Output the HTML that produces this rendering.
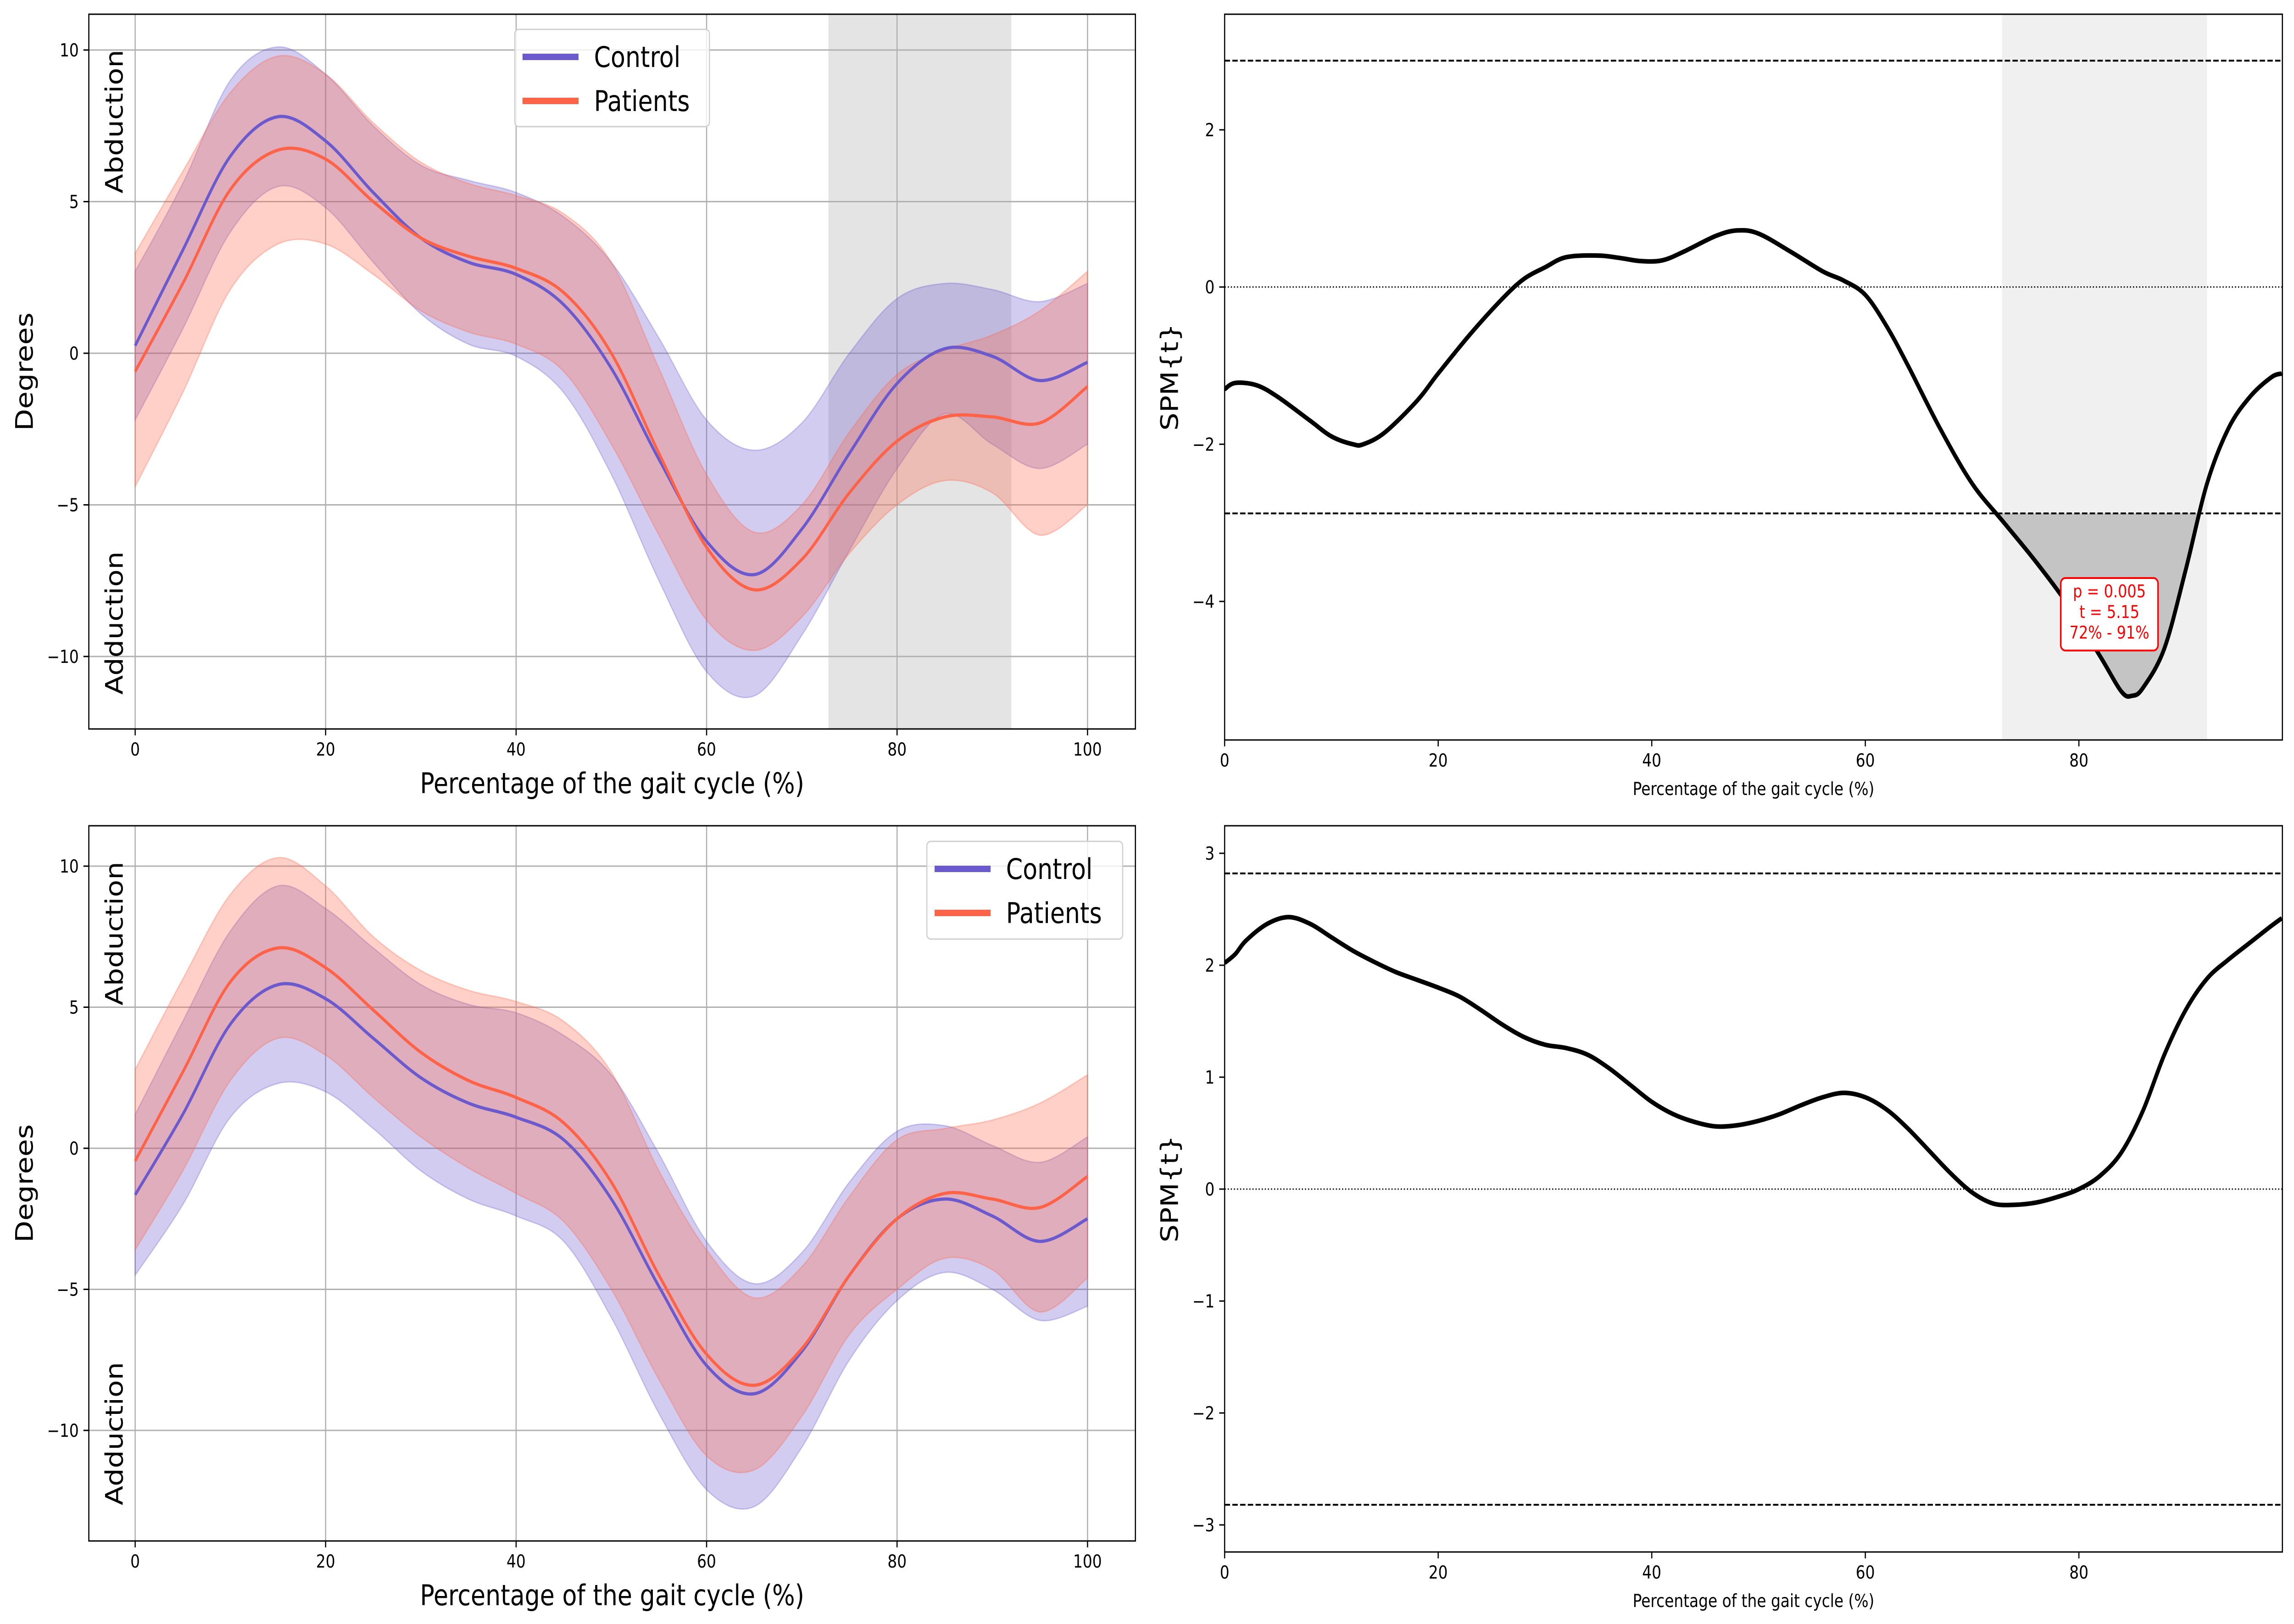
<!DOCTYPE html>
<html><head><meta charset="utf-8"><style>
html,body{margin:0;padding:0;background:#fff;width:100%;height:100%;overflow:hidden;}
svg{display:block;width:100vw;height:100vh;font-family:"DejaVu Sans","Liberation Sans",sans-serif;}
</style></head><body>
<svg id="fig" viewBox="0 0 5940 3540" preserveAspectRatio="none" xmlns="http://www.w3.org/2000/svg">
<rect width="5940" height="3540" fill="#fff"/>
</svg>
<script>
// ---- data: top-left (hip angle, condition 1)
const xKnots = [0,5,10,15,20,25,30,35,40,45,50,55,60,65,70,75,80,85,90,95,100];
const tlCtrlMean = [0.25,3.4,6.5,7.8,7.0,5.3,3.8,3.0,2.6,1.6,-0.5,-3.5,-6.2,-7.3,-5.8,-3.3,-1.0,0.15,-0.1,-0.9,-0.3];
const tlCtrlUp   = [2.7,5.6,9.0,10.1,9.2,7.5,6.2,5.7,5.3,4.5,3.0,0.5,-2.2,-3.2,-2.3,0.0,1.8,2.3,2.1,1.7,2.3];
const tlCtrlLo   = [-2.2,0.8,4.0,5.5,4.8,3.0,1.3,0.3,-0.1,-1.3,-4.0,-7.5,-10.5,-11.3,-9.3,-6.5,-3.8,-2.0,-3.0,-3.8,-3.0];
const tlPatMean  = [-0.6,2.3,5.4,6.7,6.4,5.0,3.8,3.2,2.8,2.0,0.0,-3.3,-6.4,-7.8,-6.8,-4.6,-2.9,-2.1,-2.1,-2.3,-1.1];
const tlPatUp    = [3.3,6.0,8.6,9.8,9.2,7.6,6.3,5.6,5.2,4.6,3.0,-0.5,-4.0,-5.9,-5.0,-2.6,-0.7,0.1,0.6,1.4,2.7];
const tlPatLo    = [-4.4,-1.3,2.1,3.6,3.6,2.6,1.4,0.7,0.3,-0.6,-3.0,-6.0,-8.8,-9.8,-8.7,-6.6,-5.0,-4.2,-4.6,-6.0,-5.0];
// ---- data: bottom-left
const blCtrlMean = [-1.65,1.2,4.4,5.8,5.3,3.9,2.5,1.6,1.1,0.3,-1.8,-4.9,-7.7,-8.7,-7.2,-4.5,-2.5,-1.8,-2.4,-3.3,-2.5];
const blCtrlUp   = [1.2,4.5,7.7,9.3,8.5,7.1,5.8,5.1,4.8,4.0,2.6,-0.2,-3.3,-4.8,-3.7,-1.2,0.6,0.8,0.1,-0.5,0.4];
const blCtrlLo   = [-4.5,-2.0,1.1,2.3,2.0,0.7,-0.8,-1.8,-2.4,-3.3,-6.0,-9.4,-12.1,-12.7,-10.6,-7.5,-5.4,-4.4,-5.0,-6.1,-5.6];
const blPatMean  = [-0.45,2.7,5.9,7.1,6.4,4.9,3.4,2.4,1.8,0.9,-1.2,-4.5,-7.3,-8.4,-7.1,-4.5,-2.5,-1.6,-1.8,-2.1,-1.0];
const blPatUp    = [2.8,6.0,9.0,10.3,9.3,7.5,6.3,5.6,5.2,4.5,2.7,-0.8,-3.6,-5.3,-4.2,-1.7,0.3,0.7,1.0,1.6,2.6];
const blPatLo    = [-3.6,-0.8,2.4,3.9,3.3,1.8,0.4,-0.7,-1.6,-2.6,-5.0,-8.2,-10.9,-11.4,-9.5,-6.6,-5.0,-3.9,-4.3,-5.8,-4.6];
// ---- data: SPM top
const spmTopX = [0,1,3,5,8,10,12,13,15,18,20,23,26,28,30,32,35,37,39,41,43,46,48,50,53,56,58,60,62,64,67,70,73,76,79,82,84,85,86,88,90,92,94,96,98,99];
const spmTopT = [-1.3,-1.22,-1.25,-1.4,-1.7,-1.9,-2.0,-2.0,-1.85,-1.45,-1.1,-0.6,-0.15,0.1,0.25,0.38,0.4,0.37,0.33,0.34,0.45,0.65,0.72,0.68,0.45,0.2,0.08,-0.1,-0.5,-1.0,-1.8,-2.5,-3.0,-3.5,-4.05,-4.7,-5.15,-5.2,-5.1,-4.6,-3.6,-2.5,-1.8,-1.4,-1.15,-1.1];
const spmTopThresh = [2.88];
// ---- data: SPM bottom
const spmBotX = [0,1,2,4,6,8,10,12,14,16,18,20,22,24,26,28,30,32,34,36,38,40,42,44,46,48,50,52,54,56,58,60,62,64,66,68,70,72,74,76,78,80,82,84,86,88,90,92,94,96,98,99];
const spmBotT = [2.02,2.1,2.22,2.37,2.43,2.37,2.25,2.13,2.03,1.94,1.87,1.8,1.72,1.6,1.47,1.36,1.29,1.26,1.2,1.08,0.93,0.78,0.67,0.6,0.56,0.57,0.61,0.67,0.75,0.82,0.86,0.82,0.71,0.54,0.34,0.14,-0.03,-0.13,-0.14,-0.12,-0.07,0.0,0.12,0.33,0.7,1.2,1.6,1.88,2.05,2.2,2.35,2.42];
const spmBotThresh = [2.82];
// ---- tick labels
const degTicks = [-10,-5,0,5,10];
const pctTicks = [0,20,40,60,80,100];
const spmTopYTicks = [-4,-2,0,2];
const spmBotYTicks = [-3,-2,-1,0,1,2,3];
const spmXTicks = [0,20,40,60,80];
const sigRegion = [72.8,92];

const NS='http://www.w3.org/2000/svg';
const svg=document.getElementById('fig');
function mk(tag,attrs,parent){const e=document.createElementNS(NS,tag);for(const k in attrs)e.setAttribute(k,attrs[k]);(parent||svg).appendChild(e);return e;}
function spline(pts){
  let d='M'+pts[0][0].toFixed(1)+','+pts[0][1].toFixed(1);
  for(let i=0;i<pts.length-1;i++){
    const p0=pts[Math.max(0,i-1)],p1=pts[i],p2=pts[i+1],p3=pts[Math.min(pts.length-1,i+2)];
    const c1=[p1[0]+(p2[0]-p0[0])/6,p1[1]+(p2[1]-p0[1])/6];
    const c2=[p2[0]-(p3[0]-p1[0])/6,p2[1]-(p3[1]-p1[1])/6];
    d+=' C'+c1[0].toFixed(1)+','+c1[1].toFixed(1)+' '+c2[0].toFixed(1)+','+c2[1].toFixed(1)+' '+p2[0].toFixed(1)+','+p2[1].toFixed(1);
  }
  return d;
}
function axis(L,R,T,B,x0,x1,y0,y1){
  return {L,R,T,B,sx:v=>L+(v-x0)/(x1-x0)*(R-L),sy:v=>B-(v-y0)/(y1-y0)*(B-T)};
}
function text(s,x,y,size,anchor,extra,name){
  const t=mk('text',Object.assign({x,y,'font-size':size,'text-anchor':anchor||'middle'},extra||{}));
  t.textContent=s;
  
  
  return t;
}

function anglePanel(T,B,data,legend,nm){
  const L=230,R=2940;
  const ppx=(2816-350)/100;
  const x0=-(350-L)/ppx, x1=100+(R-2816)/ppx;
  const y10=data.y10,ym10=data.ym10;
  const ppy=(ym10-y10)/20;
  const ylo=-10-(B-ym10)/ppy, yhi=10+(y10-T)/ppy;
  const a=axis(L,R,T,B,x0,x1,ylo,yhi);
  const g=mk('g',{});
  
  
  mk('defs',{},g).innerHTML='<clipPath id="clip-'+nm+'"><rect x="'+L+'" y="'+T+'" width="'+(R-L)+'" height="'+(B-T)+'"/></clipPath>';
  const pg=mk('g',{'clip-path':'url(#clip-'+nm+')'},g);
  if(data.sig){
    const r=mk('rect',{x:a.sx(sigRegion[0]),y:T,width:a.sx(sigRegion[1])-a.sx(sigRegion[0]),height:B-T,fill:'#e4e4e4'},pg);
    
    
  }
  pctTicks.forEach(v=>{const l=mk('line',{x1:a.sx(v),x2:a.sx(v),y1:T,y2:B,stroke:'#b0b0b0','stroke-width':3},pg);});
  degTicks.forEach(v=>{const l=mk('line',{x1:L,x2:R,y1:a.sy(v),y2:a.sy(v),stroke:'#b0b0b0','stroke-width':3},pg);});
  const series=[['control',data.cu,data.cl,data.cm,'#6a5acd'],['patients',data.pu,data.pl,data.pm,'#ff6347']];
  series.forEach(s=>{
    const up=xKnots.map((x,i)=>[a.sx(x),a.sy(s[1][i])]);
    const lo=xKnots.map((x,i)=>[a.sx(x),a.sy(s[2][i])]).reverse();
    const d=spline(up)+' L'+lo[0][0]+','+lo[0][1]+spline(lo).replace(/^M[^ C]+/,'')+' Z';
    const b=mk('path',{d,fill:s[4],'fill-opacity':0.3,stroke:s[4],'stroke-opacity':0.3,'stroke-width':3},pg);
    
    
  });
  series.forEach(s=>{
    const m=mk('path',{d:spline(xKnots.map((x,i)=>[a.sx(x),a.sy(s[3][i])])),fill:'none',stroke:s[4],'stroke-width':7},pg);
    
    
  });
  const fr=mk('rect',{x:L,y:T,width:R-L,height:B-T,fill:'none',stroke:'#000','stroke-width':3},g);
  
  
  pctTicks.forEach(v=>{mk('line',{x1:a.sx(v),x2:a.sx(v),y1:B,y2:B+14,stroke:'#000','stroke-width':3},g);text(String(v),a.sx(v),B+58,39,'middle',{},'x-tick-label');});
  degTicks.forEach(v=>{mk('line',{x1:L-14,x2:L,y1:a.sy(v),y2:a.sy(v),stroke:'#000','stroke-width':3},g);text(String(v).replace('-','\u2212'),L-26,a.sy(v)+14,39,'end',{},'y-tick-label');});
  text('Percentage of the gait cycle (%)',(L+R)/2,B+140,62,'middle',{},'x-axis-title');
  text('Degrees',85,(T+B)/2,62,'middle',{transform:'rotate(-90 85 '+((T+B)/2)+')'},'y-axis-title');
  const abY=data.abY, adY=data.adY;
  text('Abduction',318,abY,62,'middle',{transform:'rotate(-90 318 '+abY+')'},'abduction-label');
  text('Adduction',318,adY,62,'middle',{transform:'rotate(-90 318 '+adY+')'},'adduction-label');
  const lg=mk('g',{},g);
  
  
  const [lx,ly,lw,lh]=legend;
  mk('rect',{x:lx,y:ly,width:lw,height:lh,rx:10,fill:'#fff','fill-opacity':0.8,stroke:'#d0d0d0','stroke-width':3},lg);
  [['Control','#6a5acd'],['Patients','#ff6347']].forEach((e,i)=>{
    const cy=ly+60+i*96;
    const ln=mk('line',{x1:lx+20,x2:lx+165,y1:cy,y2:cy,stroke:e[1],'stroke-width':14},lg);
    
    
    text(e[0],lx+205,cy+22,62,'start',{},'legend-entry-'+e[0].toLowerCase());
  });
}

anglePanel(31,1589,{y10:109,ym10:1431,cm:tlCtrlMean,cu:tlCtrlUp,cl:tlCtrlLo,pm:tlPatMean,pu:tlPatUp,pl:tlPatLo,sig:true,abY:265,adY:1358},[1333,64,504,212],'top-angle');
anglePanel(1800,3359,{y10:1888,ym10:3118,cm:blCtrlMean,cu:blCtrlUp,cl:blCtrlLo,pm:blPatMean,pu:blPatUp,pl:blPatLo,sig:false,abY:2035,adY:3125},[2400,1834,507,213],'bottom-angle');

function spmPanel(T,B,yA,yAv,yB,yBv,xs,ts,thr,yticks,sig,nm){
  const L=3171,R=5910;
  const ppx=27.65, x1=(R-L)/ppx;
  const ppy=(yB-yA)/(yAv-yBv);
  const ylo=yBv-(B-yB)/ppy, yhi=yAv+(yA-T)/ppy;
  const a=axis(L,R,T,B,0,x1,ylo,yhi);
  const g=mk('g',{});
  
  
  mk('defs',{},g).innerHTML='<clipPath id="clip-'+nm+'"><rect x="'+L+'" y="'+T+'" width="'+(R-L)+'" height="'+(B-T)+'"/></clipPath>';
  const pg=mk('g',{'clip-path':'url(#clip-'+nm+')'},g);
  const pts=xs.map((x,i)=>[a.sx(x),a.sy(ts[i])]);
  const curveD=spline(pts);
  if(sig){
    const r=mk('rect',{x:a.sx(sigRegion[0]),y:T,width:a.sx(sigRegion[1])-a.sx(sigRegion[0]),height:B-T,fill:'#f0f0f0'},pg);
    
    
    mk('defs',{},g).innerHTML='<clipPath id="below-'+nm+'"><rect x="'+L+'" y="'+a.sy(-thr[0])+'" width="'+(R-L)+'" height="'+(B-a.sy(-thr[0]))+'"/></clipPath>';
    const f=mk('path',{d:curveD+' L'+pts[pts.length-1][0]+','+a.sy(-thr[0])+' L'+pts[0][0]+','+a.sy(-thr[0])+' Z',fill:'#c4c4c4','clip-path':'url(#below-'+nm+')'},pg);
    
    
  }
  [thr[0],-thr[0]].forEach(v=>{const l=mk('line',{x1:L,x2:R,y1:a.sy(v),y2:a.sy(v),stroke:'#000','stroke-width':4,'stroke-dasharray':'14,6'},pg);});
  const z=mk('line',{x1:L,x2:R,y1:a.sy(0),y2:a.sy(0),stroke:'#000','stroke-width':3,'stroke-dasharray':'3,5'},pg);
  
  
  const c=mk('path',{d:curveD,fill:'none',stroke:'#000','stroke-width':10},pg);
  
  
  const fr=mk('rect',{x:L,y:T,width:R-L,height:B-T,fill:'none',stroke:'#000','stroke-width':3},g);
  
  
  spmXTicks.forEach(v=>{mk('line',{x1:a.sx(v),x2:a.sx(v),y1:B,y2:B+14,stroke:'#000','stroke-width':3},g);text(String(v),a.sx(v),B+58,39,'middle',{},'x-tick-label');});
  yticks.forEach(v=>{mk('line',{x1:L-14,x2:L,y1:a.sy(v),y2:a.sy(v),stroke:'#000','stroke-width':3},g);text(String(v).replace('-','\u2212'),L-26,a.sy(v)+14,39,'end',{},'y-tick-label');});
  text('Percentage of the gait cycle (%)',(L+R)/2,B+120,39,'middle',{},'x-axis-title');
  const cy=(T+B)/2;
  text('SPM{t}',3050,cy,62,'middle',{transform:'rotate(-90 3050 '+cy+')'},'y-axis-title');
  if(sig){
    const ag=mk('g',{},g);
    
    
    mk('rect',{x:5336,y:1260,width:252,height:158,rx:12,fill:'#fff',stroke:'#ff0000','stroke-width':4},ag);
    ['p = 0.005','t = 5.15','72% - 91%'].forEach((s,i)=>text(s,5462,1302+i*45,38,'middle',{fill:'#ff0000'},'annotation-line'));
  }
}
spmPanel(31,1613,283,2,1311,-4,spmTopX,spmTopT,spmTopThresh,spmTopYTicks,true,'top-spm');
spmPanel(1800,3383,1860,3,3324,-3,spmBotX,spmBotT,spmBotThresh,spmBotYTicks,false,'bottom-spm');
</script>
</body></html>
